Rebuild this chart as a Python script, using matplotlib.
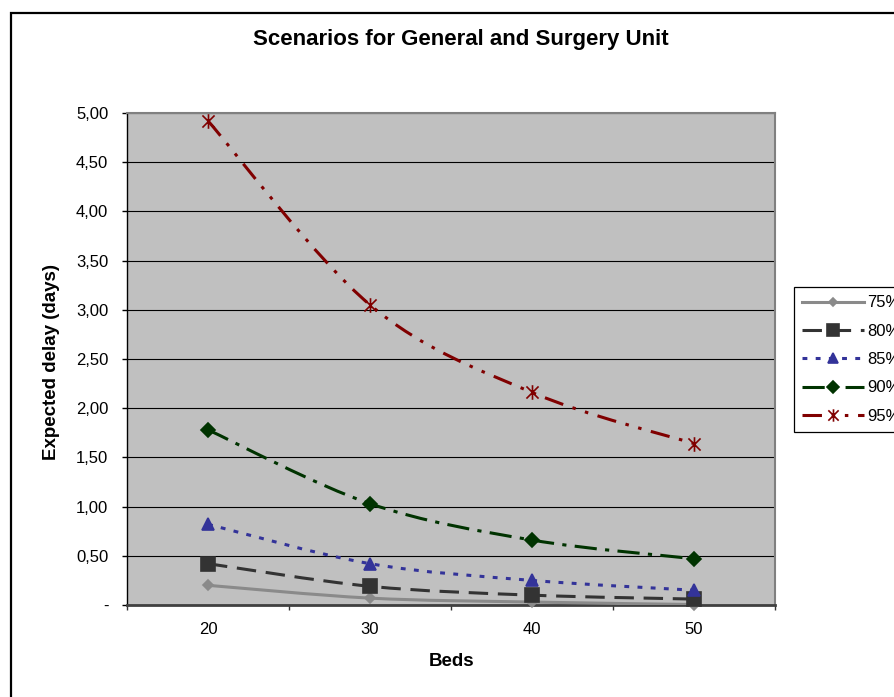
import numpy as np
import matplotlib
matplotlib.use("Agg")
from matplotlib import pyplot as plt
from matplotlib.path import Path
from matplotlib.patches import PathPatch, Rectangle
from matplotlib.lines import Line2D
from matplotlib.ticker import FuncFormatter

plt.rcParams['font.family'] = ['Liberation Sans', 'DejaVu Sans']
plt.rcParams['lines.scale_dashes'] = False

# Expected delay (days) per number of beds, one series per occupancy level
beds = ['20', '30', '40', '50']
occ75 = [0.20, 0.07, 0.03, 0.005]
occ80 = [0.42, 0.19, 0.10, 0.06]
occ85 = [0.82, 0.42, 0.25, 0.15]
occ90 = [1.78, 1.03, 0.66, 0.47]
occ95 = [4.92, 3.05, 2.16, 1.64]
labels = ['75%', '80%', '85%', '90%', '95%']

# excel-like star: an X with a vertical bar through it
star = Path([(-1, -1), (1, 1), (-1, 1), (1, -1), (0, -1.2), (0, 1.2)],
            [Path.MOVETO, Path.LINETO, Path.MOVETO, Path.LINETO, Path.MOVETO, Path.LINETO])

styles = [
    dict(color='#8a8a8a', ls='-', marker='D', ms=5, lw=2.2),
    dict(color='#333333', ls=(0, (14, 7)), marker='s', ms=10.5, lw=2.2),
    dict(color='#333399', ls=(0, (3.5, 6)), marker='^', ms=8, lw=2.2),
    dict(color='#003300', ls=(0, (16, 6, 3, 6)), marker='D', ms=7.5, lw=2.2),
    dict(color='#800000', ls=(0, (14, 7, 2.5, 7, 2.5, 7)), marker=star, ms=10.5, lw=2.2),
]


def smooth_path(x, y):
    # cubic bezier through the points, same tension as a spreadsheet "smoothed line"
    pts = np.column_stack([x, y]).astype(float)
    ext = np.vstack([pts[0], pts, pts[-1]])
    verts = [tuple(pts[0])]
    codes = [Path.MOVETO]
    for i in range(len(pts) - 1):
        p0, p1, p2, p3 = ext[i], ext[i + 1], ext[i + 2], ext[i + 3]
        c1 = p1 + (p2 - p0) / 6.0
        c2 = p2 - (p3 - p1) / 6.0
        verts += [tuple(c1), tuple(c2), tuple(p2)]
        codes += [Path.CURVE4] * 3
    return Path(verts, codes)


fig = plt.figure(figsize=(8.94, 6.97), dpi=100)
W, H = 894, 697
ax = fig.add_axes([127 / W, 1 - 605 / H, (775 - 127) / W, (605 - 113) / H])

# outer chart frame, runs off the right and bottom edges
fig.patches.append(Rectangle((11 / W, -0.1), 1.0, 1 - 13 / H + 0.1, transform=fig.transFigure,
                             fill=False, edgecolor='black', lw=1.6, zorder=0))

ax.set_facecolor('#c0c0c0')
xs = np.arange(len(beds))
series = [occ75, occ80, occ85, occ90, occ95]
handles = []
for vals, st, lab in zip(series, styles, labels):
    patch = PathPatch(smooth_path(xs, vals), facecolor='none', edgecolor=st['color'],
                      lw=st['lw'], linestyle=st['ls'], zorder=3, capstyle='butt')
    ax.add_patch(patch)
    mfc = 'none' if st['marker'] is star else st['color']
    ax.plot(xs, vals, ls='none', marker=st['marker'], ms=st['ms'], color=st['color'],
            mfc=mfc, mec=st['color'], mew=1.2, zorder=4, clip_on=False)
    handles.append(Line2D([], [], color=st['color'], ls=st['ls'], lw=st['lw'],
                          marker=st['marker'], ms=st['ms'] * 0.85, mfc=mfc, mec=st['color'], mew=1.2))

ax.set_xlim(-0.5, 3.5)
ax.set_ylim(0, 5)
ax.set_yticks(np.arange(0, 5.01, 0.5))
ax.yaxis.set_major_formatter(FuncFormatter(lambda v, p: '-' if v == 0 else f'{v:.2f}'.replace('.', ',')))
ax.grid(axis='y', color='black', lw=0.8)
ax.set_axisbelow(True)

ax.set_xticks(np.arange(-0.5, 3.6, 1))
ax.set_xticklabels([])
ax.set_xticks(xs, minor=True)
ax.set_xticklabels(beds, minor=True)
ax.tick_params(axis='x', which='major', direction='out', length=3.5, width=1, color='#333333')
ax.tick_params(axis='x', which='minor', length=0, pad=12, labelsize=12)
ax.tick_params(axis='y', direction='out', length=3.5, width=1, pad=10, labelsize=12)

for side in ['top', 'right']:
    ax.spines[side].set_color('#808080')
    ax.spines[side].set_linewidth(1.5)
ax.spines['left'].set_color('black')
ax.spines['left'].set_linewidth(1)
ax.spines['bottom'].set_color('#404040')
ax.spines['bottom'].set_linewidth(2)

fig.text(461 / W, 1 - 40 / H, 'Scenarios for General and Surgery Unit', ha='center', va='center',
         fontsize=16, fontweight='bold')
fig.text(52 / W, 1 - 362 / H, 'Expected delay (days)', ha='center', va='center', rotation=90,
         fontsize=13.5, fontweight='bold')
fig.text(452 / W, 1 - 662 / H, 'Beds', ha='center', va='center', fontsize=13.5, fontweight='bold')

leg = fig.legend(handles, labels, loc='upper left', bbox_to_anchor=(794 / W, 1 - 287 / H),
                 bbox_transform=fig.transFigure, fontsize=12, handlelength=3.7,
                 labelspacing=0.8, handletextpad=0.2, borderpad=0.5, borderaxespad=0,
                 fancybox=False, framealpha=1, edgecolor='black')
leg.get_frame().set_linewidth(0.9)

fig.savefig('out.png', dpi=100)
